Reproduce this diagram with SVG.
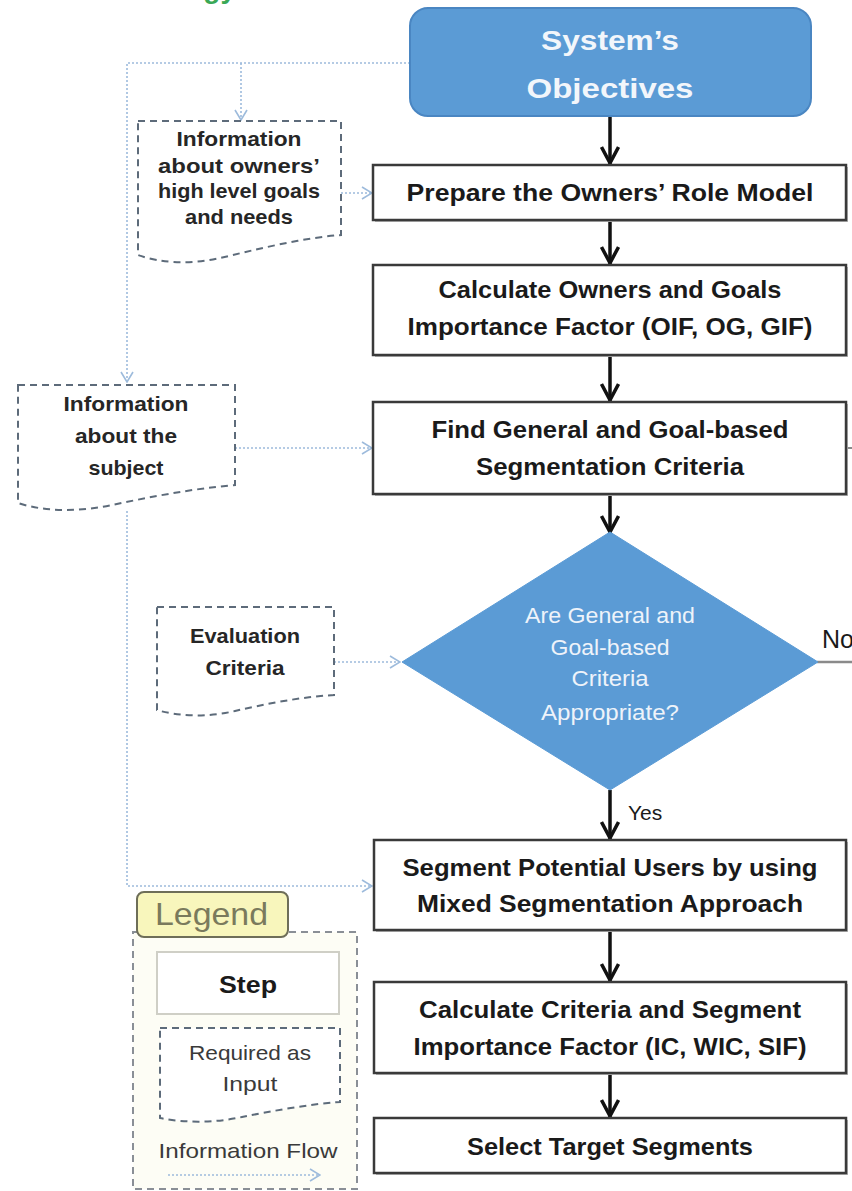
<svg xmlns="http://www.w3.org/2000/svg" width="852" height="1191" viewBox="0 0 852 1191">
<style>
  .step { fill: #ffffff; stroke: #3a3a3a; stroke-width: 2.5; }
  .shadow { fill: #b8b8b8; }
  .st { font-family: "Liberation Sans", Arial, sans-serif; font-weight: bold; font-size: 24px; fill: #1a1a1a; text-anchor: middle; }
  .doc { fill: #ffffff; stroke: #5d6b7a; stroke-width: 2; stroke-dasharray: 7 5; }
  .dt { font-family: "Liberation Sans", Arial, sans-serif; font-weight: bold; font-size: 21px; fill: #262626; text-anchor: middle; }
  .wt { font-family: "Liberation Sans", Arial, sans-serif; font-size: 22px; fill: #eef3fa; text-anchor: middle; }
  .flow { fill: none; stroke: #9dbbdc; stroke-width: 1.6; stroke-dasharray: 2 2; }
  .main { fill: none; stroke: #111111; stroke-width: 3.5; }
  .lt { font-family: "Liberation Sans", Arial, sans-serif; font-size: 21px; fill: #3a3a3a; text-anchor: middle; }
</style>
<defs>
  <marker id="ah" viewBox="0 0 20 20" refX="19" refY="10" markerWidth="20" markerHeight="20" markerUnits="userSpaceOnUse" orient="auto">
    <path d="M2,1.5 L18,10 L2,18.5" fill="none" stroke="#111111" stroke-width="3.5" stroke-linejoin="miter"/>
  </marker>
  <marker id="fh" viewBox="0 0 12 14" refX="11" refY="7" markerWidth="12" markerHeight="14" markerUnits="userSpaceOnUse" orient="auto">
    <path d="M1,1 L11,7 L1,13" fill="none" stroke="#9dbbdc" stroke-width="1.6"/>
  </marker>
</defs>
<rect width="852" height="1191" fill="#ffffff"/>

<!-- partial title -->
<text x="236" y="-2" text-anchor="end" font-family="Liberation Sans, Arial, sans-serif" font-weight="bold" font-size="28" fill="#3aa856">ogy</text>

<!-- connectors -->
<g id="connectors">
  <path class="flow" d="M410,63 H127 V382" marker-end="url(#fh)"/>
  <path class="flow" d="M241,63 V120" marker-end="url(#fh)"/>
  <path class="flow" d="M341,193 H372" marker-end="url(#fh)"/>
  <path class="flow" d="M235,448 H372" marker-end="url(#fh)"/>
  <path class="flow" d="M127,511 V886 H372" marker-end="url(#fh)"/>
  <path class="flow" d="M334,662 H400" marker-end="url(#fh)"/>
  <line class="main" x1="610" y1="116" x2="610" y2="164" marker-end="url(#ah)"/>
  <line class="main" x1="610" y1="220" x2="610" y2="264" marker-end="url(#ah)"/>
  <line class="main" x1="610" y1="355" x2="610" y2="401" marker-end="url(#ah)"/>
  <line class="main" x1="610" y1="494" x2="610" y2="533" marker-end="url(#ah)"/>
  <line class="main" x1="610" y1="790" x2="610" y2="839" marker-end="url(#ah)"/>
  <line class="main" x1="610" y1="930" x2="610" y2="981" marker-end="url(#ah)"/>
  <line class="main" x1="610" y1="1073" x2="610" y2="1117" marker-end="url(#ah)"/>
  <line x1="817" y1="662" x2="852" y2="662" stroke="#8a8a8a" stroke-width="2.5"/>
  <line x1="846" y1="448" x2="852" y2="448" stroke="#8a8a8a" stroke-width="2"/>
  <text x="822" y="648" font-family="Liberation Sans, Arial, sans-serif" font-size="25" fill="#1a1a1a">No</text>
  <text x="628" y="820" font-family="Liberation Sans, Arial, sans-serif" font-size="21" fill="#1a1a1a">Yes</text>
</g>

<!-- System's Objectives -->
<g id="objectives">
  <rect x="410" y="8" width="401" height="108" rx="18" fill="#5b9bd5" stroke="#4a86c2" stroke-width="2"/>
  <text x="610" y="50" font-family="Liberation Sans, Arial, sans-serif" font-weight="bold" font-size="28" fill="#f2f6fb" text-anchor="middle" textLength="138" lengthAdjust="spacingAndGlyphs">System’s</text>
  <text x="610" y="98" font-family="Liberation Sans, Arial, sans-serif" font-weight="bold" font-size="28" fill="#f2f6fb" text-anchor="middle" textLength="167" lengthAdjust="spacingAndGlyphs">Objectives</text>
</g>

<g id="prepare">
  <rect class="shadow" x="375" y="167" width="473" height="55"/>
  <rect class="step" x="373" y="165" width="473" height="55"/>
  <text class="st" x="610" y="201" textLength="407" lengthAdjust="spacingAndGlyphs">Prepare the Owners’ Role Model</text>
</g>

<g id="calc-owners">
  <rect class="shadow" x="375" y="267" width="473" height="90"/>
  <rect class="step" x="373" y="265" width="473" height="90"/>
  <text class="st" x="610" y="298" textLength="343" lengthAdjust="spacingAndGlyphs">Calculate Owners and Goals</text>
  <text class="st" x="610" y="335" textLength="405" lengthAdjust="spacingAndGlyphs">Importance Factor (OIF, OG, GIF)</text>
</g>

<g id="find-criteria">
  <rect class="shadow" x="375" y="404" width="473" height="92"/>
  <rect class="step" x="373" y="402" width="473" height="92"/>
  <text class="st" x="610" y="438" textLength="357" lengthAdjust="spacingAndGlyphs">Find General and Goal-based</text>
  <text class="st" x="610" y="475" textLength="268" lengthAdjust="spacingAndGlyphs">Segmentation Criteria</text>
</g>

<g id="decision">
  <polygon points="610,532 818,662 610,790 402,662" fill="#5b9bd5" stroke="#5b9bd5" stroke-width="1"/>
  <text class="wt" x="610" y="623" textLength="170" lengthAdjust="spacingAndGlyphs">Are General and</text>
  <text class="wt" x="610" y="655" textLength="119" lengthAdjust="spacingAndGlyphs">Goal-based</text>
  <text class="wt" x="610" y="686" textLength="77" lengthAdjust="spacingAndGlyphs">Criteria</text>
  <text class="wt" x="610" y="720" textLength="138" lengthAdjust="spacingAndGlyphs">Appropriate?</text>
</g>

<g id="segment">
  <rect class="shadow" x="376" y="842" width="472" height="90"/>
  <rect class="step" x="374" y="840" width="472" height="90"/>
  <text class="st" x="610" y="876" textLength="415" lengthAdjust="spacingAndGlyphs">Segment Potential Users by using</text>
  <text class="st" x="610" y="912" textLength="386" lengthAdjust="spacingAndGlyphs">Mixed Segmentation Approach</text>
</g>

<g id="calc-criteria">
  <rect class="shadow" x="376" y="984" width="472" height="91"/>
  <rect class="step" x="374" y="982" width="472" height="91"/>
  <text class="st" x="610" y="1018" textLength="382" lengthAdjust="spacingAndGlyphs">Calculate Criteria and Segment</text>
  <text class="st" x="610" y="1055" textLength="393" lengthAdjust="spacingAndGlyphs">Importance Factor (IC, WIC, SIF)</text>
</g>

<g id="select">
  <rect class="shadow" x="376" y="1120" width="472" height="55"/>
  <rect class="step" x="374" y="1118" width="472" height="55"/>
  <text class="st" x="610" y="1155" textLength="286" lengthAdjust="spacingAndGlyphs">Select Target Segments</text>
</g>

<g id="doc-owners">
  <path class="doc" d="M138,121 H341 V235 C300,238 255,250 220,258 C190,265 160,263 138,255 Z"/>
  <text class="dt" x="239" y="146" textLength="125" lengthAdjust="spacingAndGlyphs">Information</text>
  <text class="dt" x="239" y="173" textLength="162" lengthAdjust="spacingAndGlyphs">about  owners’</text>
  <text class="dt" x="239" y="198" textLength="162" lengthAdjust="spacingAndGlyphs">high level goals</text>
  <text class="dt" x="239" y="224" textLength="108" lengthAdjust="spacingAndGlyphs">and needs</text>
</g>

<g id="doc-subject">
  <path class="doc" d="M18,385 H235 V485 C190,489 150,497 112,505 C80,512 45,512 18,503 Z"/>
  <text class="dt" x="126" y="411" textLength="125" lengthAdjust="spacingAndGlyphs">Information</text>
  <text class="dt" x="126" y="443" textLength="102" lengthAdjust="spacingAndGlyphs">about the</text>
  <text class="dt" x="126" y="475" textLength="75" lengthAdjust="spacingAndGlyphs">subject</text>
</g>

<g id="doc-evaluation">
  <path class="doc" d="M157,607 H334 V695 C300,697 265,704 235,711 C210,717 180,717 157,710 Z"/>
  <text class="dt" x="245" y="643" textLength="110" lengthAdjust="spacingAndGlyphs">Evaluation</text>
  <text class="dt" x="245" y="675" textLength="79" lengthAdjust="spacingAndGlyphs">Criteria</text>
</g>

<g id="legend">
  <rect x="133" y="932" width="224" height="257" fill="#fdfdf5" stroke="#8a8f96" stroke-width="2" stroke-dasharray="7 5"/>
  <rect x="137" y="892" width="151" height="45" rx="7" fill="#f8f6bc" stroke="#6e6e58" stroke-width="2"/>
  <text x="155" y="925" font-family="Liberation Sans, Arial, sans-serif" font-size="32" fill="#7a7a5c" textLength="113" lengthAdjust="spacingAndGlyphs">Legend</text>
  <rect x="157" y="952" width="182" height="62" fill="#ffffff" stroke="#cfcfc6" stroke-width="2"/>
  <text class="st" x="248" y="993" textLength="58" lengthAdjust="spacingAndGlyphs">Step</text>
  <path class="doc" d="M160,1028 H340 V1102 C310,1104 272,1111 242,1117 C215,1123 185,1123 160,1118 Z" fill="#fdfdf5"/>
  <text class="lt" x="250" y="1060" textLength="122" lengthAdjust="spacingAndGlyphs">Required as</text>
  <text class="lt" x="250" y="1091" textLength="55" lengthAdjust="spacingAndGlyphs">Input</text>
  <text class="lt" x="248" y="1158" textLength="179" lengthAdjust="spacingAndGlyphs">Information Flow</text>
  <path class="flow" d="M168,1175 H320" marker-end="url(#fh)"/>
</g>
</svg>
